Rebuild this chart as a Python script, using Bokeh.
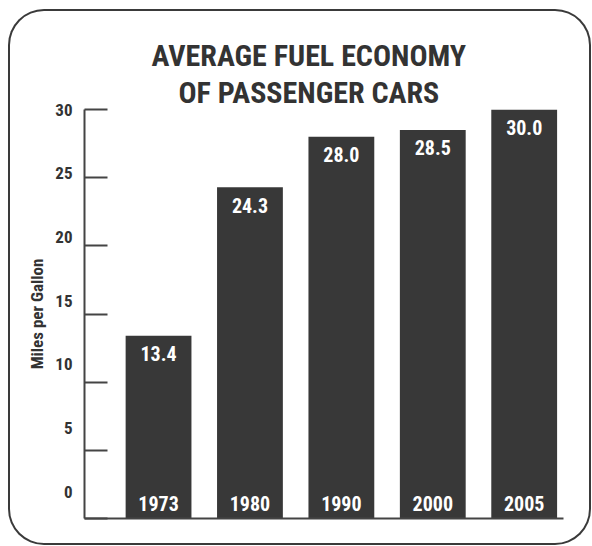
from bokeh.plotting import figure
from bokeh.models import (ColumnDataSource, Range1d, LinearAxis, FixedTicker, Title)
from bokeh.core.properties import value
from bokeh.embed import file_html
from bokeh.resources import INLINE

# ---- data ----
years = ["1973", "1980", "1990", "2000", "2005"]
mpg = [13.4, 24.3, 28.0, 28.5, 30.0]
mpg_labels = ["13.4", "24.3", "28.0", "28.5", "30.0"]
y_ticks = [0, 5, 10, 15, 20, 25, 30]
title_line1 = "AVERAGE FUEL ECONOMY"
title_line2 = "OF PASSENGER CARS"
y_title = "Miles per Gallon"

FONT = "Roboto Condensed"
DARK = "#383838"
TXT = "#333333"
AXC = "#444444"

idx = list(range(len(years)))
src = ColumnDataSource(dict(x=idx, top=mpg, year=years, lab=mpg_labels, zero=[0] * len(years)))

p = figure(width=583, height=536, x_range=Range1d(-0.81, 4.43), y_range=Range1d(0, 30),
           output_backend="svg", toolbar_location=None,
           x_axis_location=None, y_axis_location=None,
           min_border_left=76, min_border_right=28, min_border_top=100, min_border_bottom=27,
           title=title_line1, margin=(9, 0, 0, 8))
p.styles = {"border-radius": "36px", "box-shadow": "inset 0 0 0 2px #3a3a3a", "background": "white"}
p.outline_line_color = None
p.background_fill_color = "white"
p.border_fill_alpha = 0
p.xgrid.visible = False
p.ygrid.visible = False

p.title.text_font = FONT
p.title.text_font_size = "30px"
p.title.text_font_style = "bold"
p.title.text_color = TXT
p.title.align = "left"
p.title.offset = 67
p.title.standoff = 0

t2 = Title(text=title_line2, align="left", offset=94, text_font=FONT, text_font_size="30px",
           text_font_style="bold", text_color=TXT, standoff=0)
p.add_layout(t2, "above")

# tick labels in the reference sit on a slightly compressed scale of their own
p.extra_y_ranges = {"labels": Range1d(-2.12, 30.02)}

axA = LinearAxis(ticker=FixedTicker(ticks=y_ticks), major_tick_in=23, major_tick_out=0,
                 major_label_text_font_size="1px", major_label_text_color=None, major_label_standoff=0,
                 axis_line_color=AXC, axis_line_width=2,
                 major_tick_line_color=AXC, major_tick_line_width=2,
                 minor_tick_line_color=None)
p.add_layout(axA, "left")

axB = LinearAxis(y_range_name="labels", ticker=FixedTicker(ticks=y_ticks),
                 axis_line_color=None, major_tick_line_color=None, minor_tick_line_color=None,
                 major_label_standoff=6, major_label_text_font=FONT,
                 major_label_text_font_size="17px", major_label_text_font_style="bold",
                 major_label_text_color=TXT,
                 axis_label=y_title, axis_label_text_font=FONT, axis_label_text_font_size="17px",
                 axis_label_text_font_style="bold", axis_label_text_color=TXT,
                 axis_label_standoff=5)
p.add_layout(axB, "left")

axX = LinearAxis(ticker=FixedTicker(ticks=[]), major_tick_line_color=None, minor_tick_line_color=None,
                 major_label_text_font_size="1px", major_label_text_color=None, major_label_standoff=0,
                 axis_line_color=AXC, axis_line_width=2)
p.add_layout(axX, "below")

p.vbar(x="x", top="top", bottom=0, width=0.72, source=src, fill_color=DARK, line_color=None)

p.text(x="x", y="top", text="lab", source=src, text_align="center", text_baseline="middle",
       y_offset=18, text_color="white", text_font=value(FONT), text_font_size="20px",
       text_font_style="bold")
p.text(x="x", y="zero", text="year", source=src, text_align="center", text_baseline="middle",
       y_offset=-15, text_color="white", text_font=value(FONT), text_font_size="20px",
       text_font_style="bold")

open("out.html", "w").write(file_html(p, INLINE))
